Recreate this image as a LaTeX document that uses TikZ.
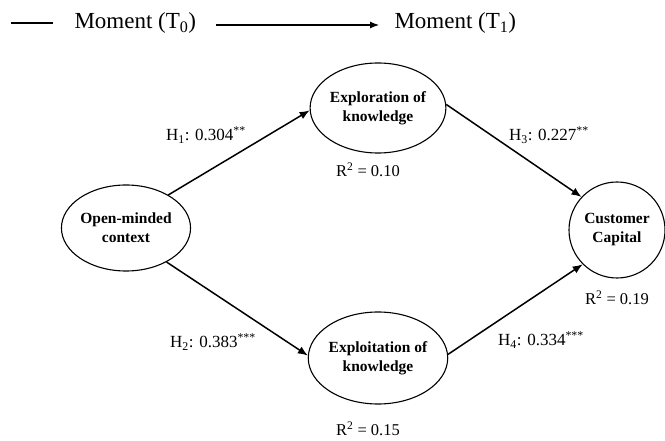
\documentclass[tikz,border=0pt]{standalone}
\usepackage{fontspec}
\setmainfont{Liberation Serif}
\usetikzlibrary{shapes.geometric,arrows.meta}
\begin{document}
\begin{tikzpicture}[x=1pt,y=-1pt,
  construct/.style={draw,ellipse,line width=1.1pt,inner sep=0pt,
    font=\fontsize{15.5}{19}\selectfont\bfseries,align=center},
  path/.style={line width=1.5pt,-{Latex[length=10pt,width=8pt]}},
  coef/.style={font=\fontsize{17}{20}\selectfont},
  rsq/.style={font=\fontsize{16.5}{19}\selectfont},
  head/.style={font=\fontsize{23}{27}\selectfont}]
\useasboundingbox (0,0) rectangle (665,441);
% header
\coordinate (l0) at (11,23);
\coordinate (l1) at (53,23);
\draw[line width=1.1pt] (l0) -- (l1);
\node[head,anchor=west] (m0) at (71,23) {Moment (T\textsubscript{0})};
\node[head,anchor=west] (m1) at (391,23) {Moment (T\textsubscript{1})};
\coordinate (a0) at (216,25);
\coordinate (a1) at (379,25);
\draw[line width=1.1pt,-{Latex[length=9pt,width=7pt]}] (a0) -- (a1);
% constructs
\node[construct,minimum width=104pt,minimum height=86pt] (open) at (126,228) {Open-minded\\context};
\node[construct,minimum width=112pt,minimum height=90pt] (explor) at (378,108) {Exploration of\\knowledge};
\node[construct,minimum width=112pt,minimum height=92pt] (exploit) at (378,358) {Exploitation of\\knowledge};
\node[construct,minimum width=96pt,minimum height=96pt] (cust) at (617,230) {Customer\\Capital};
% paths
\draw[path] (open.38) -- (explor.182);
\draw[path] (open.-40) -- (exploit.178);
\draw[path] (explor.3) -- (cust.137);
\draw[path] (exploit.3) -- (cust.225);
% labels
\node[coef] (h1) at (206,135) {H\textsubscript{1}: 0.304\textsuperscript{**}};
\node[coef] (h2) at (213,342) {H\textsubscript{2}: 0.383\textsuperscript{***}};
\node[coef] (h3) at (549,135) {H\textsubscript{3}: 0.227\textsuperscript{**}};
\node[coef] (h4) at (541,340) {H\textsubscript{4}: 0.334\textsuperscript{***}};
\node[rsq] (r1) at (368,170) {R\textsuperscript{2} = 0.10};
\node[rsq] (r2) at (368,429) {R\textsuperscript{2} = 0.15};
\node[rsq] (r3) at (617,298) {R\textsuperscript{2} = 0.19};
\end{tikzpicture}
\end{document}
